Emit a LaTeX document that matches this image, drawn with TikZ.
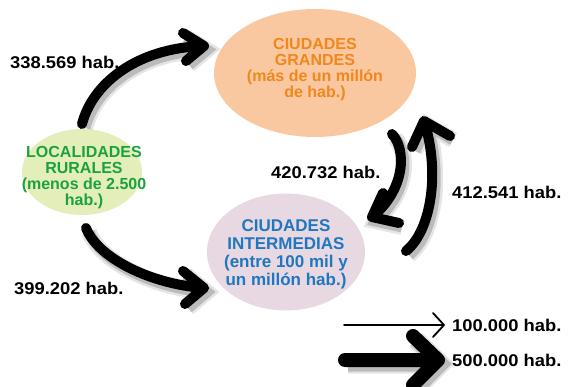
\documentclass[tikz,border=0pt]{standalone}
\usepackage{fontspec}
\setmainfont{Liberation Sans}
\newfontfamily\lblfont[FakeStretch=1.08]{Liberation Sans}
\usetikzlibrary{shapes.geometric}
\definecolor{ruralfill}{HTML}{E3EEBA}
\definecolor{ruraltext}{HTML}{1BA23C}
\definecolor{grandfill}{HTML}{F9C8A0}
\definecolor{grandtext}{HTML}{F0881C}
\definecolor{interfill}{HTML}{E8D8E2}
\definecolor{intertext}{HTML}{1F77BF}
\tikzset{
  blob/.style={ellipse, inner sep=0pt, draw=none},
  blobtext/.style={align=center, inner sep=0pt, font=\bfseries\fontsize{16}{16}\selectfont},
  numlabel/.style={anchor=west, inner sep=0pt, font=\lblfont\bfseries\fontsize{17}{17}\selectfont},
  bigarrow/.style={line width=10pt, line cap=round, line join=round, draw=black,
    preaction={draw=black, opacity=0.10, line width=16pt, transform canvas={shift={(3pt,-4pt)}}},
    preaction={draw=black, opacity=0.18, line width=11pt, transform canvas={shift={(3pt,-4pt)}}}},
  thinarrow/.style={line width=1.8pt, line cap=round, line join=round, draw=black},
  fatarrow/.style={line width=14pt, line cap=round, line join=round, draw=black,
    preaction={draw=black, opacity=0.10, line width=19pt, transform canvas={shift={(3pt,-4pt)}}},
    preaction={draw=black, opacity=0.18, line width=15pt, transform canvas={shift={(3pt,-4pt)}}}}
}
\begin{document}
\begin{tikzpicture}[x=1pt,y=-1pt]
\useasboundingbox[fill=white] (0,0) rectangle (573,387);

% ellipses
\node[blob, fill=ruralfill, minimum width=120pt, minimum height=86pt] (ruralbg) at (82,172) {};
\node[blob, fill=grandfill, minimum width=202pt, minimum height=128pt] (grandbg) at (315,73) {};
\node[blob, fill=interfill, minimum width=158pt, minimum height=117pt] (interbg) at (286,252) {};

% texts
\node[blobtext, text=ruraltext] (rural) at (84,178) {LOCALIDADES\\RURALES\\(menos de 2.500\\hab.)};
\node[blobtext, text=grandtext] (grand) at (315,70) {CIUDADES\\GRANDES\\(más de un millón\\de hab.)};
\node[blobtext, text=intertext, font=\bfseries\fontsize{17}{18}\selectfont] (inter) at (286,254) {CIUDADES\\INTERMEDIAS\\(entre 100 mil y\\un millón hab.)};

% arrow end coordinates
\coordinate (a1s) at (82,124);  \coordinate (a1t) at (204,46);
\coordinate (a1u) at (183,33);  \coordinate (a1d) at (186,61);
\coordinate (a2s) at (86,228);  \coordinate (a2t) at (204,288);
\coordinate (a2u) at (183,271); \coordinate (a2d) at (185,304);
\coordinate (a3s) at (392,134); \coordinate (a3t) at (372,217);
\coordinate (a3u) at (383,193); \coordinate (a3d) at (399,223);
\coordinate (a4s) at (406,251); \coordinate (a4t) at (424,121);
\coordinate (a4l) at (412,147); \coordinate (a4r) at (450,136);

\draw[bigarrow] (a1s) .. controls (92,85) and (135,48) .. (a1t) (a1u) -- (a1t) -- (a1d);
\draw[bigarrow] (a2s) .. controls (98,258) and (150,284) .. (a2t) (a2u) -- (a2t) -- (a2d);
\draw[bigarrow] (a3s) .. controls (407,150) and (405,190) .. (a3t) (a3u) -- (a3t) -- (a3d);
\draw[bigarrow] (a4s) .. controls (432,230) and (440,170) .. (a4t) (a4l) -- (a4t) -- (a4r);

% labels
\node[numlabel] (l1) at (10,62) {338.569 hab.};
\node[numlabel] (l2) at (271,172) {420.732 hab.};
\node[numlabel] (l3) at (452,192) {412.541 hab.};
\node[numlabel] (l4) at (14,288) {399.202 hab.};

% legend
\coordinate (g1s) at (344,325); \coordinate (g1t) at (444,325);
\coordinate (g1u) at (433,313); \coordinate (g1d) at (433,337);
\draw[thinarrow] (g1s) -- (g1t) (g1u) -- (g1t) -- (g1d);
\coordinate (g2s) at (345,360); \coordinate (g2t) at (438,360);
\coordinate (g2u) at (413,336); \coordinate (g2d) at (413,385);
\draw[fatarrow] (g2s) -- (g2t) (g2u) -- (g2t) -- (g2d);
\node[numlabel] (g1) at (452,325) {100.000 hab.};
\node[numlabel] (g2) at (452,360) {500.000 hab.};
\end{tikzpicture}
\end{document}
